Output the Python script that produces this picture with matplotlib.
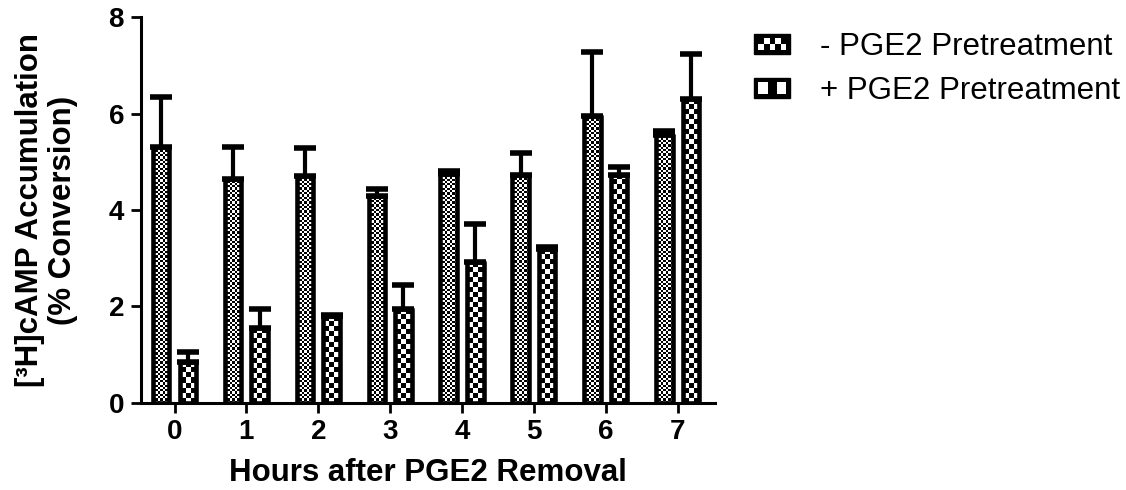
import matplotlib
matplotlib.use("Agg")
import matplotlib.pyplot as plt
import numpy as np
from matplotlib.patches import Rectangle
from matplotlib.legend_handler import HandlerBase

plt.rcParams['font.family'] = ['Liberation Sans', 'DejaVu Sans']

hours = [0, 1, 2, 3, 4, 5, 6, 7]
minus_mean = [5.3, 4.65, 4.7, 4.3, 4.75, 4.72, 5.95, 5.55]
minus_err = [1.05, 0.65, 0.58, 0.13, 0.05, 0.47, 1.33, 0.08]
plus_mean = [0.85, 1.55, 1.8, 1.95, 2.92, 3.18, 4.73, 6.3]
plus_err = [0.2, 0.4, 0.03, 0.5, 0.78, 0.06, 0.16, 0.93]
labels = ["- PGE2 Pretreatment", "+ PGE2 Pretreatment"]


def checker(ax, bar, cell_px):
    # fill a bar with a black/white checkerboard clipped to the bar
    x0, w, h = bar.get_x(), bar.get_width(), bar.get_height()
    p0 = ax.transData.transform((x0, 0))
    p1 = ax.transData.transform((x0 + w, h))
    nx = max(1, int(round(abs(p1[0] - p0[0]) / cell_px)))
    ny = max(1, int(round(abs(p1[1] - p0[1]) / cell_px)))
    i, j = np.indices((ny, nx))
    img = ((i + j) % 2).astype(float)
    im = ax.imshow(img, cmap='gray', extent=(x0, x0 + w, 0, h), origin='lower',
                   interpolation='nearest', aspect='auto', zorder=1)
    im.set_clip_path(bar)


class HandlerChecker(HandlerBase):
    def __init__(self, ncols):
        super().__init__()
        self.ncols = ncols

    def create_artists(self, legend, orig_handle, xdescent, ydescent,
                       width, height, fontsize, trans):
        w = width
        h = height
        y0 = -ydescent
        arts = [Rectangle((-xdescent, y0), w, h, facecolor='black',
                          edgecolor='black', linewidth=1, transform=trans)]
        pad = 0.2 * h
        nx = self.ncols
        cw = (w - 2 * pad) / nx
        ny = max(1, int(round((h - 2 * pad) / cw)))
        ch = (h - 2 * pad) / ny
        for a in range(ny):
            for b in range(nx):
                if (a + b) % 2 == 0:
                    arts.append(Rectangle((-xdescent + pad + b * cw, y0 + pad + a * ch),
                                          cw, ch, facecolor='white', edgecolor='none',
                                          transform=trans))
        return arts


fig = plt.figure(figsize=(11.26, 4.9), dpi=100)
ax = fig.add_axes([0.125, 0.178, 0.51, 0.787])

x = np.array(hours)
bw = 0.23
off = 0.185
ax.set_xlim(-0.47, 7.52)
ax.set_ylim(0, 8)

bars1 = ax.bar(x - off, minus_mean, bw, facecolor='none', edgecolor='black',
               linewidth=3.3, zorder=3)
bars2 = ax.bar(x + off, plus_mean, bw, facecolor='none', edgecolor='black',
               linewidth=3.3, zorder=3)
for b in list(bars1) + list(bars2):
    b.set_joinstyle('round')

ax.errorbar(x - off, minus_mean, yerr=[np.zeros(8), minus_err], fmt='none',
            ecolor='black', elinewidth=3, capsize=8, capthick=4, zorder=2)
ax.errorbar(x + off, plus_mean, yerr=[np.zeros(8), plus_err], fmt='none',
            ecolor='black', elinewidth=3, capsize=8, capthick=4, zorder=2)

fig.canvas.draw()
for b in bars1:
    checker(ax, b, 2.3)
for b in bars2:
    checker(ax, b, 5.0)

for s in ['top', 'right']:
    ax.spines[s].set_visible(False)
for s in ['left', 'bottom']:
    ax.spines[s].set_linewidth(2.2)

ax.set_xticks(hours)
ax.set_yticks([0, 2, 4, 6, 8])
ax.tick_params(axis='both', width=2, length=7, labelsize=20, pad=5)
for t in ax.get_xticklabels() + ax.get_yticklabels():
    t.set_fontweight('bold')

ax.set_xlabel("Hours after PGE2 Removal", fontsize=22.5, fontweight='bold', labelpad=9)
ax.set_ylabel("[³H]cAMP Accumulation\n(% Conversion)", fontsize=22.5,
              fontweight='bold', labelpad=22, linespacing=1.15)

h1 = Rectangle((0, 0), 1, 1)
h2 = Rectangle((0, 0), 1, 1)
fig.legend([h1, h2], labels, loc='upper left', bbox_to_anchor=(0.67, 0.935),
           frameon=False, fontsize=22.5, handlelength=1.15, handleheight=0.6,
           handletextpad=0.95, labelspacing=0.45, borderaxespad=0, borderpad=0,
           handler_map={h1: HandlerChecker(5), h2: HandlerChecker(3)})

fig.savefig("out.png", dpi=100)
